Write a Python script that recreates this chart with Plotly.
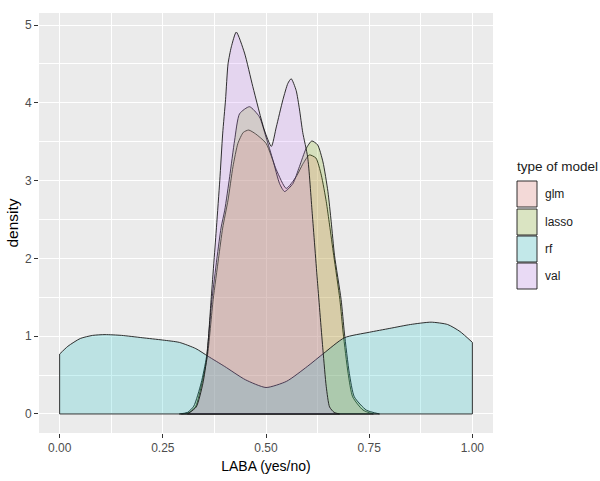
import plotly.graph_objects as go

# ---- data (density estimates per model) ----
models = ["glm", "lasso", "rf", "val"]

glm_x = [0.295, 0.315, 0.33, 0.345, 0.358, 0.372, 0.385, 0.395, 0.408, 0.42, 0.432, 0.445, 0.458,
         0.475, 0.5, 0.525, 0.549, 0.573, 0.59, 0.605, 0.621, 0.634, 0.646, 0.654, 0.664, 0.679,
         0.687, 0.699, 0.71, 0.735, 0.76]
glm_y = [0, 0.02, 0.1, 0.4, 0.74, 1.47, 2.0, 2.39, 2.75, 3.18, 3.48, 3.62, 3.65,
         3.6, 3.48, 3.14, 2.9, 3.05, 3.22, 3.33, 3.29, 3.07, 2.73, 2.43, 2.04, 1.47,
         1.04, 0.52, 0.22, 0.05, 0]

lasso_x = [0.29, 0.31, 0.325, 0.343, 0.356, 0.369, 0.391, 0.4, 0.412, 0.424, 0.436, 0.46, 0.484,
           0.5, 0.517, 0.533, 0.545, 0.565, 0.581, 0.597, 0.611, 0.625, 0.638, 0.65, 0.658, 0.666,
           0.682, 0.69, 0.702, 0.714, 0.743, 0.775]
lasso_y = [0, 0.02, 0.1, 0.4, 0.74, 1.47, 2.39, 2.62, 3.05, 3.52, 3.86, 3.95, 3.82,
           3.56, 3.26, 2.96, 2.86, 2.96, 3.18, 3.41, 3.51, 3.46, 3.24, 2.86, 2.47, 2.04,
           1.47, 1.04, 0.52, 0.22, 0.05, 0]

rf_x = [0, 0.02, 0.05, 0.08, 0.11, 0.15, 0.2, 0.25, 0.29, 0.33, 0.36, 0.4, 0.45, 0.5, 0.55,
        0.6, 0.64, 0.69, 0.75, 0.8, 0.85, 0.9, 0.94, 0.97, 1.0]
rf_y = [0.77, 0.87, 0.97, 1.01, 1.02, 1.01, 0.98, 0.95, 0.92, 0.84, 0.74, 0.61, 0.44, 0.34, 0.42,
        0.61, 0.78, 0.98, 1.05, 1.10, 1.15, 1.18, 1.15, 1.06, 0.92]

val_x = [0.31, 0.331, 0.347, 0.357, 0.367, 0.38, 0.388, 0.395, 0.402, 0.408, 0.416, 0.428, 0.448,
         0.468, 0.496, 0.513, 0.525, 0.541, 0.553, 0.561, 0.573, 0.581, 0.589, 0.601, 0.612,
         0.625, 0.638, 0.646, 0.654, 0.665, 0.678]
val_y = [0, 0.09, 0.39, 0.74, 1.47, 2.4, 3.0, 3.6, 4.04, 4.5, 4.72, 4.91, 4.64,
         4.21, 3.65, 3.44, 3.69, 4.04, 4.25, 4.31, 4.16, 3.92, 3.62, 3.3, 2.58,
         1.68, 0.82, 0.35, 0.09, 0.02, 0]

x_ticks = [0, 0.25, 0.5, 0.75, 1.0]
x_tick_labels = ["0.00", "0.25", "0.50", "0.75", "1.00"]
y_ticks = [0, 1, 2, 3, 4, 5]

colors = {"glm": (248, 118, 109), "lasso": (124, 174, 0), "rf": (0, 191, 196), "val": (199, 124, 255)}
alpha = 0.2
series = {"glm": (glm_x, glm_y), "lasso": (lasso_x, lasso_y), "rf": (rf_x, rf_y), "val": (val_x, val_y)}
FONT = "Liberation Sans, Arial, sans-serif"
LINE = "#1a1a1a"

fig = go.Figure()
for m in models:
    xs, ys = series[m]
    r, g, b = colors[m]
    # density area with its curve outline
    fig.add_trace(go.Scatter(
        x=xs, y=ys, mode="lines", fill="tozeroy",
        fillcolor=f"rgba({r},{g},{b},{alpha})",
        line=dict(color=LINE, width=0.9, shape="spline", smoothing=0.6),
        name=m, showlegend=False, hoverinfo="skip"))
    # closing outline (end edges and baseline) of the density polygon
    fig.add_trace(go.Scatter(
        x=[xs[0], xs[0], xs[-1], xs[-1]], y=[ys[0], 0, 0, ys[-1]], mode="lines",
        line=dict(color=LINE, width=0.9), showlegend=False, hoverinfo="skip"))

# plot-area geometry (pixels) for the manual ggplot-style legend
L, R, T, B = 39, 107, 13, 48
W, H = 600, 481
pw, ph = W - L - R, H - T - B


def pxx(p):
    return (p - L) / pw


def pxy(p):
    return (H - B - p) / ph


shapes = []
annotations = []
key_tops = [181, 209, 236, 263]
key_h = 26
for m, top in zip(models, key_tops):
    r, g, b = colors[m]
    fr = round(242 * (1 - alpha) + r * alpha)
    fg = round(242 * (1 - alpha) + g * alpha)
    fb = round(242 * (1 - alpha) + b * alpha)
    shapes.append(dict(type="rect", xref="paper", yref="paper",
                       x0=pxx(517), x1=pxx(537), y0=pxy(top + key_h), y1=pxy(top),
                       fillcolor=f"rgb({fr},{fg},{fb})", line=dict(color=LINE, width=0.9)))
    annotations.append(dict(xref="paper", yref="paper", x=pxx(543), y=pxy(top + key_h / 2),
                            text=m, showarrow=False, xanchor="left", yanchor="middle",
                            font=dict(family=FONT, size=12, color="#1a1a1a")))
annotations.append(dict(xref="paper", yref="paper", x=pxx(515), y=pxy(166),
                        text="type of model", showarrow=False, xanchor="left", yanchor="middle",
                        font=dict(family=FONT, size=13.5, color="#1a1a1a")))

axis_common = dict(
    showline=False, zeroline=False, gridcolor="white", gridwidth=1.4,
    ticks="outside", ticklen=4, tickwidth=1, tickcolor="#333333", automargin=False,
    tickfont=dict(family=FONT, size=12, color="#4D4D4D"),
)

fig.update_layout(
    width=W, height=H,
    margin=dict(l=L, r=R, t=T, b=B),
    paper_bgcolor="white", plot_bgcolor="#EBEBEB",
    shapes=shapes, annotations=annotations,
    xaxis=dict(range=[-0.05, 1.05], tickvals=x_ticks, ticktext=x_tick_labels,
               minor=dict(tickvals=[0.125, 0.375, 0.625, 0.875], showgrid=True,
                          gridcolor="white", gridwidth=0.6, ticks=""),
               title=dict(text="LABA (yes/no)", standoff=6,
                          font=dict(family=FONT, size=14, color="black")),
               **axis_common),
    yaxis=dict(range=[-0.245, 5.155], tickvals=y_ticks,
               minor=dict(tickvals=[0.5, 1.5, 2.5, 3.5, 4.5], showgrid=True,
                          gridcolor="white", gridwidth=0.6, ticks=""),
               title=dict(text="density", standoff=2,
                          font=dict(family=FONT, size=15.5, color="black")),
               **axis_common),
)

fig.write_html("out.html", config={"displayModeBar": False},
               post_script="document.body.style.margin='0';document.body.style.overflow='hidden';")
